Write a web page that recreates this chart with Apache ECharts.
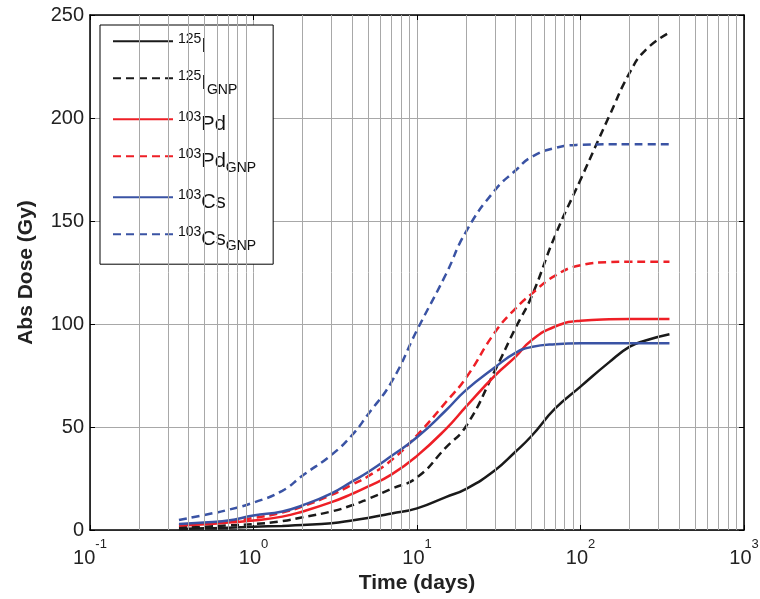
<!DOCTYPE html>
<html>
<head>
<meta charset="utf-8">
<script src="https://cdn.jsdelivr.net/npm/echarts@6/dist/echarts.min.js"></script>
<style>
html,body{margin:0;padding:0;background:#fff;}
#chart{width:760px;height:599px;}
</style>
</head>
<body>
<div id="chart"></div>
<script>
// Time points (days)
const times = [0.35, 0.5, 0.7, 1, 1.5, 2, 3, 4, 5, 7, 10, 15, 20, 30, 40, 50, 70, 100, 150, 200, 250, 350];
// Absorbed dose (Gy)
const doseI125     = [0.5, 0.8, 1.1, 1.6, 2.0, 2.4, 3.3, 4.6, 5.8, 8.0, 10.5, 16, 20, 29, 38, 45.5, 59, 69.6, 81.5, 89, 92, 95];
const doseI125GNP  = [1.2, 1.6, 2.2, 2.9, 4.3, 6.2, 9, 12, 15, 20, 25.5, 40, 50.5, 77.5, 98, 113, 143, 170, 201, 222, 233, 241.5];
const dosePd103    = [2.2, 2.8, 3.6, 4.6, 6.5, 9, 13.5, 17.5, 21, 27, 36, 49, 60, 75, 84, 92, 98.8, 101.6, 102.3, 102.4, 102.4, 102.4];
const dosePd103GNP = [2.4, 3.3, 4.4, 5.8, 8.5, 11.5, 17, 22, 26, 34, 46, 62, 74, 96, 107.5, 114.5, 123.5, 128.5, 130, 130.2, 130.2, 130.2];
const doseCs103    = [2.9, 3.6, 4.6, 7, 9, 12, 17.8, 23.5, 28, 36, 45, 58, 68, 79, 86, 88.8, 90.2, 90.6, 90.6, 90.6, 90.6, 90.6];
const doseCs103GNP = [4.9, 7.3, 9.8, 13.3, 19, 26.5, 36.5, 46, 56, 72, 97, 124, 145, 165, 174.5, 181, 185.5, 187, 187.2, 187.2, 187.2, 187.2];

const seriesNames = ['125I', '125I_GNP', '103Pd', '103Pd_GNP', '103Cs', '103Cs_GNP'];
const legendLabels = {
  '125I': '{sup|125}{b|I}',
  '125I_GNP': '{sup|125}{b|I}{sub|GNP}',
  '103Pd': '{sup|103}{b|Pd}',
  '103Pd_GNP': '{sup|103}{b|Pd}{sub|GNP}',
  '103Cs': '{sup|103}{b|Cs}',
  '103Cs_GNP': '{sup|103}{b|Cs}{sub|GNP}'
};
const yTicks = [0, 50, 100, 150, 200, 250];
const minorX = [0.2,0.3,0.4,0.5,0.6,0.7,0.8,0.9, 2,3,4,5,6,7,8,9, 20,30,40,50,60,70,80,90, 200,300,400,500,600,700,800,900];

const BLACK = '#1a1a1a', RED = '#ee1f26', BLUE = '#3a53a4';
const FONT = '"Liberation Sans", Arial, Helvetica, sans-serif';
const GRID = '#a8a8a8';

function pairs(vals){ return times.map((t,i)=>[t, vals[i]]); }

const seriesDefs = [
  {name: seriesNames[0], data: doseI125, color: BLACK, dash: 'solid'},
  {name: seriesNames[1], data: doseI125GNP, color: BLACK, dash: [8,5]},
  {name: seriesNames[2], data: dosePd103, color: RED, dash: 'solid'},
  {name: seriesNames[3], data: dosePd103GNP, color: RED, dash: [8,5]},
  {name: seriesNames[4], data: doseCs103, color: BLUE, dash: 'solid'},
  {name: seriesNames[5], data: doseCs103GNP, color: BLUE, dash: [8,5]}
];

const chart = echarts.init(document.getElementById('chart'), null, {renderer: 'canvas'});

const series = [{
  name: 'minorgrid', type: 'line', data: [], silent: true, animation: false,
  markLine: {
    silent: true, symbol: 'none', animation: false,
    label: {show: false},
    lineStyle: {color: GRID, width: 1, type: 'solid'},
    data: minorX.map(v => ({xAxis: v}))
  }
}].concat(seriesDefs.map(s => ({
  name: s.name, type: 'line', data: pairs(s.data),
  showSymbol: false, symbol: 'none', smooth: 0.5,
  color: s.color,
  itemStyle: {color: s.color},
  lineStyle: {color: s.color, width: 2.5, type: s.dash},
  animation: false, z: 3
})));

chart.setOption({
  backgroundColor: '#fff',
  animation: false,
  grid: {left: 90, top: 15, right: 16, bottom: 69, containLabel: false, outerBoundsMode: 'none'},
  legend: {
    data: seriesNames,
    orient: 'vertical',
    left: 100, top: 25,
    padding: [5, 17, 11, 12],
    itemWidth: 60, itemHeight: 28, itemGap: 10.8,
    borderColor: '#000', borderWidth: 1, backgroundColor: '#fff',
    selectedMode: false,
    itemStyle: {opacity: 0},
    formatter: n => legendLabels[n],
    textStyle: {
      color: '#111', fontFamily: FONT,
      padding: [10, 0, 0, 0],
      rich: {
        b: {fontSize: 20, lineHeight: 28, verticalAlign: 'middle', fontFamily: FONT, color: '#111'},
        sup: {fontSize: 14, lineHeight: 16, verticalAlign: 'top', fontFamily: FONT, color: '#111'},
        sub: {fontSize: 14, lineHeight: 16, verticalAlign: 'bottom', fontFamily: FONT, color: '#111'}
      }
    }
  },
  xAxis: [{
    type: 'log', logBase: 10, min: 0.1, max: 1000, position: 'bottom',
    name: 'Time (days)', nameLocation: 'middle', nameGap: 41,
    nameTextStyle: {fontSize: 21, fontWeight: 'bold', color: '#222', fontFamily: FONT},
    axisLine: {show: true, onZero: false, lineStyle: {color: '#000', width: 1.5}},
    axisTick: {show: true, inside: true, length: 5, lineStyle: {color: '#000'}},
    splitLine: {show: true, lineStyle: {color: GRID, width: 1}},
    axisLabel: {
      margin: 8,
      formatter: v => '{b|10}{sup|' + Math.round(Math.log10(v)) + '}',
      rich: {
        b: {fontSize: 20, lineHeight: 30, verticalAlign: 'bottom', color: '#222', fontFamily: FONT},
        sup: {fontSize: 13, lineHeight: 15, verticalAlign: 'top', color: '#222', fontFamily: FONT}
      }
    }
  }, {
    type: 'log', logBase: 10, min: 0.1, max: 1000, position: 'top',
    axisLine: {show: true, onZero: false, lineStyle: {color: '#000', width: 1.5}},
    axisTick: {show: true, inside: true, length: 5, lineStyle: {color: '#000'}},
    axisLabel: {show: false}, splitLine: {show: false}
  }],
  yAxis: [{
    type: 'value', min: 0, max: 250, interval: 50, position: 'left',
    name: 'Abs Dose (Gy)', nameLocation: 'middle', nameGap: 53, nameRotate: 90,
    nameTextStyle: {fontSize: 21, fontWeight: 'bold', color: '#222', fontFamily: FONT},
    axisLine: {show: true, onZero: false, lineStyle: {color: '#000', width: 1.5}},
    axisTick: {show: true, inside: true, length: 5, lineStyle: {color: '#000'}},
    splitLine: {show: true, lineStyle: {color: GRID, width: 1}},
    axisLabel: {margin: 6, fontSize: 20, color: '#222', fontFamily: FONT}
  }, {
    type: 'value', min: 0, max: 250, interval: 50, position: 'right',
    axisLine: {show: true, onZero: false, lineStyle: {color: '#000', width: 1.5}},
    axisTick: {show: true, inside: true, length: 5, lineStyle: {color: '#000'}},
    axisLabel: {show: false}, splitLine: {show: false}
  }],
  series: series
});
</script>
</body>
</html>
